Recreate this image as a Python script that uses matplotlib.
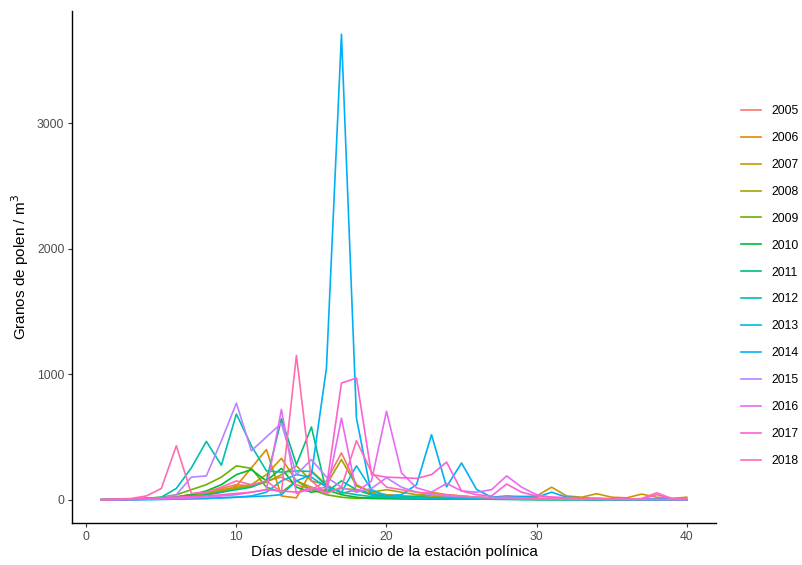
import numpy as np
import matplotlib.pyplot as plt

plt.rcParams['font.family'] = ['Liberation Sans', 'DejaVu Sans']

days = np.arange(1, 41)
years = [str(y) for y in range(2005, 2019)]
colors = ["#F8766D", "#E58700", "#C99800", "#A3A500", "#6BB100", "#00BA38", "#00BF7D",
          "#00C0AF", "#00BCD8", "#00B0F6", "#B983FF", "#E76BF3", "#FD61D1", "#FF6CB0"]

p2005 = [0,2,5,10,15,20,40,60,90,120,110,150,180,120,80,150,373,120,60,40,30,25,20,30,25,20,15,10,15,10,8,6,5,10,5,5,4,5,3,3]
p2006 = [0,1,3,8,12,18,25,40,60,110,254,400,30,15,230,120,50,80,40,20,15,10,8,6,5,8,5,10,5,4,3,6,3,2,3,2,2,1,1,1]
p2007 = [0,2,5,10,15,25,40,60,80,100,120,200,330,150,100,60,90,80,50,40,30,25,60,40,30,20,15,20,25,30,100,30,20,48,20,15,45,20,10,20]
p2008 = [0,1,4,8,12,20,35,50,70,90,110,140,200,270,150,120,320,110,60,80,60,40,30,25,20,15,10,12,8,6,5,5,4,4,3,3,2,2,2,1]
p2009 = [0,2,6,12,20,40,80,120,180,270,250,100,60,150,80,40,20,10,15,20,25,20,15,10,8,6,5,5,4,3,3,2,3,2,2,1,1,1,1,1]
p2010 = [0,1,3,6,10,20,40,70,120,200,240,150,250,100,60,80,40,20,10,8,6,5,5,4,10,5,4,3,3,2,2,2,2,1,1,1,1,1,1,1]
p2011 = [0,1,2,4,8,15,25,40,60,80,100,150,645,280,580,60,150,80,40,30,20,25,15,10,8,6,5,4,3,3,2,2,2,1,1,1,1,1,1,1]
p2012 = [0,1,3,8,20,90,254,465,275,683,430,230,220,230,225,110,60,40,25,20,15,12,10,8,6,5,4,4,3,3,2,2,2,1,1,1,1,1,1,1]
p2013 = [0,0,1,2,3,5,8,10,15,20,30,60,150,200,180,100,60,270,80,30,20,15,10,20,10,8,6,5,4,3,3,2,2,2,1,1,1,1,1,1]
p2014 = [0,0,1,2,3,5,8,10,15,20,25,30,40,150,200,1050,3710,650,40,30,40,120,518,103,293,82,20,30,25,20,60,20,15,10,8,6,5,5,4,3]
p2015 = [0,1,2,5,10,40,180,190,470,770,390,500,610,200,320,180,100,60,90,175,100,60,40,30,25,20,15,10,8,6,5,4,3,3,2,2,1,1,1,1]
p2016 = [0,1,2,4,6,10,15,20,30,40,60,80,720,50,100,50,650,60,150,705,214,95,60,130,70,60,80,190,100,40,20,15,10,8,5,4,3,3,2,2]
p2017 = [0,2,5,10,15,20,25,30,40,50,60,80,70,60,80,100,930,970,200,180,175,170,200,300,70,40,30,125,60,30,20,15,10,10,8,6,5,40,10,5]
p2018 = [0,5,10,30,90,430,50,60,100,150,120,150,60,1150,150,50,100,470,220,100,80,60,50,40,30,20,15,20,15,10,8,6,5,5,4,3,10,55,10,5]

series = [p2005, p2006, p2007, p2008, p2009, p2010, p2011,
          p2012, p2013, p2014, p2015, p2016, p2017, p2018]

fig = plt.figure(figsize=(8.03, 5.65), dpi=100)
ax = fig.add_axes([72/803, 42/565, 644/803, 512/565])

for yr, vals, c in zip(years, series, colors):
    ax.plot(days, vals, color=c, lw=1.2, label=yr)

ymax = max(max(s) for s in series)
ax.set_xlim(1 - 0.05*39, 40 + 0.05*39)
ax.set_ylim(-0.05*ymax, ymax*1.05)
ax.set_xticks([0, 10, 20, 30, 40])
ax.set_yticks([0, 1000, 2000, 3000])

for side in ['top', 'right']:
    ax.spines[side].set_visible(False)
for side in ['left', 'bottom']:
    ax.spines[side].set_linewidth(1.0)
    ax.spines[side].set_color('black')
ax.tick_params(length=3, width=0.8, color='#333333', labelcolor='#4D4D4D',
               labelsize=8.8, pad=2.5)

ax.set_xlabel('Días desde el inicio de la estación polínica', fontsize=11, labelpad=2)
ax.set_ylabel('Granos de polen / m$^3$', fontsize=11, labelpad=4)

fig.legend(loc='center left', bbox_to_anchor=(741/803, 1 - 286/565), frameon=False,
           fontsize=8.8, handlelength=1.65, labelspacing=1.22, borderpad=0,
           handletextpad=0.8, borderaxespad=0)

fig.savefig('out.png', dpi=100)
